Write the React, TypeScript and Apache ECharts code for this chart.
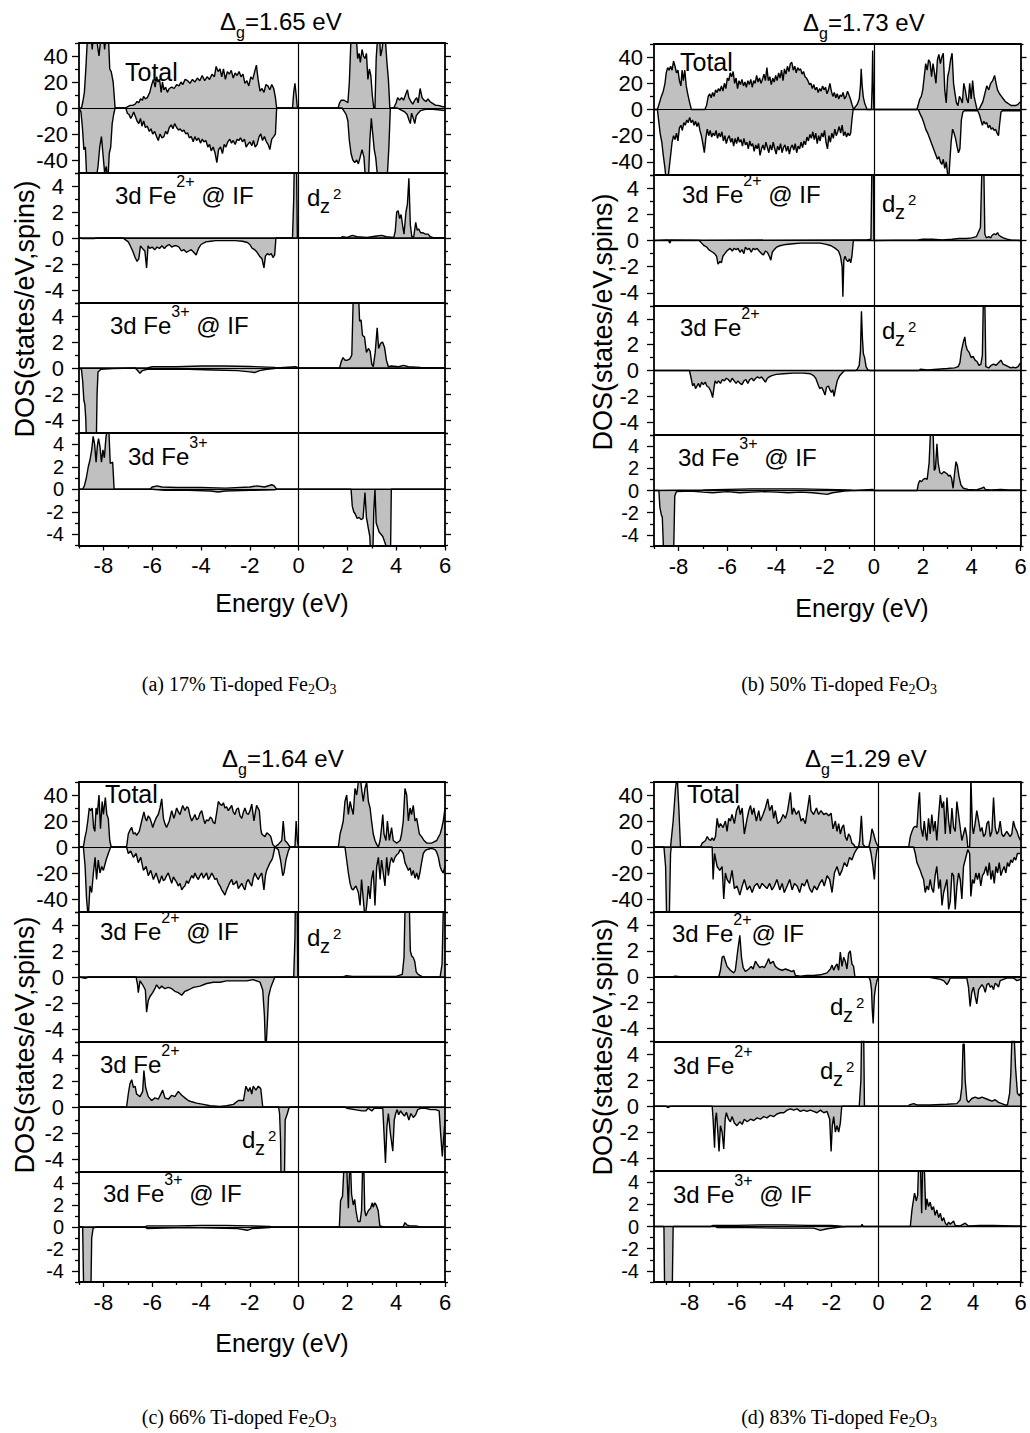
import { useEffect, useRef } from "react";
import * as echarts from "echarts";

type P = [number, number];

// ===================== DATA (energy in eV, DOS in states/eV) =====================
// ---- (a) 17% Ti-doped ----
const aTotUp: P[] = [[-9,0],[-8.9,0],[-8.84,5],[-8.78,12],[-8.72,30],[-8.66,52],[-8.6,60],[-8.52,62],[-8.46,45],[-8.4,58],[-8.32,60],[-8.24,48],[-8.18,40],[-8.1,55],[-8.02,62],[-7.95,45],[-7.88,60],[-7.8,58],[-7.74,30],[-7.68,28],[-7.6,20],[-7.52,0],[-7.1,0],[-7.0,1],[-6.9,2],[-6.8,2],[-6.7,3],[-6.62,5],[-6.55,4],[-6.48,7],[-6.4,6],[-6.35,9],[-6.28,7],[-6.2,8],[-6.1,12],[-6.02,18],[-5.95,22],[-5.88,16],[-5.82,24],[-5.76,20],[-5.7,22],[-5.63,12],[-5.58,20],[-5.52,14],[-5.45,16],[-5.38,12],[-5.3,15],[-5.2,16],[-5.1,15],[-5.0,18],[-4.9,17],[-4.82,20],[-4.75,18],[-4.65,22],[-4.55,21],[-4.45,19],[-4.35,22],[-4.25,20],[-4.15,23],[-4.05,21],[-3.95,25],[-3.85,21],[-3.75,24],[-3.65,22],[-3.55,26],[-3.45,24],[-3.38,32],[-3.3,28],[-3.22,30],[-3.15,24],[-3.08,30],[-3.0,22],[-2.92,28],[-2.84,26],[-2.76,29],[-2.68,23],[-2.6,27],[-2.52,25],[-2.44,28],[-2.36,24],[-2.28,26],[-2.2,19],[-2.12,21],[-2.04,17],[-1.96,24],[-1.88,22],[-1.8,28],[-1.73,33],[-1.66,22],[-1.58,13],[-1.5,15],[-1.42,12],[-1.34,18],[-1.26,17],[-1.18,14],[-1.1,18],[-1.02,15],[-0.95,8],[-0.9,0],[-0.25,0],[-0.2,12],[-0.15,19],[-0.1,10],[-0.05,0],[1.62,0],[1.68,4],[1.75,6],[1.85,6],[1.95,5],[2.02,4],[2.08,20],[2.14,50],[2.2,62],[2.28,55],[2.35,60],[2.42,38],[2.48,42],[2.53,35],[2.6,45],[2.66,40],[2.72,38],[2.78,42],[2.84,22],[2.9,30],[2.96,25],[3.02,10],[3.08,0],[3.13,0],[3.18,38],[3.24,55],[3.3,60],[3.36,40],[3.42,45],[3.5,58],[3.56,52],[3.62,35],[3.68,22],[3.74,0],[3.9,0],[4.0,4],[4.06,8],[4.14,6],[4.22,8],[4.3,6],[4.38,10],[4.46,14],[4.52,8],[4.6,5],[4.68,3],[4.76,6],[4.84,8],[4.9,4],[4.98,15],[5.06,8],[5.14,6],[5.22,5],[5.3,7],[5.38,5],[5.46,4],[5.54,3],[5.62,2],[5.72,2],[5.82,1.5],[5.9,1],[6,1]];
const aTotDn: P[] = [[-9,0],[-8.92,-3],[-8.86,-15],[-8.8,-32],[-8.74,-30],[-8.68,-55],[-8.6,-60],[-8.5,-58],[-8.4,-62],[-8.3,-55],[-8.22,-45],[-8.15,-30],[-8.08,-22],[-8.02,-35],[-7.95,-50],[-7.88,-45],[-7.82,-58],[-7.76,-35],[-7.7,-30],[-7.64,-12],[-7.58,-5],[-7.52,0],[-7.08,0],[-7.02,-4],[-6.95,-5],[-6.88,-8],[-6.82,-6],[-6.76,-3],[-6.7,-6],[-6.62,-10],[-6.55,-12],[-6.48,-8],[-6.42,-14],[-6.35,-10],[-6.28,-15],[-6.2,-14],[-6.12,-18],[-6.05,-16],[-5.98,-20],[-5.9,-18],[-5.82,-22],[-5.75,-25],[-5.68,-20],[-5.6,-23],[-5.52,-22],[-5.45,-18],[-5.38,-20],[-5.3,-15],[-5.22,-13],[-5.15,-16],[-5.08,-12],[-5.0,-15],[-4.92,-17],[-4.85,-16],[-4.78,-18],[-4.7,-17],[-4.62,-20],[-4.55,-19],[-4.48,-23],[-4.4,-22],[-4.32,-26],[-4.25,-22],[-4.18,-25],[-4.1,-23],[-4.02,-27],[-3.95,-24],[-3.88,-26],[-3.8,-25],[-3.72,-30],[-3.65,-28],[-3.58,-33],[-3.5,-30],[-3.42,-35],[-3.35,-42],[-3.28,-32],[-3.2,-30],[-3.12,-35],[-3.05,-28],[-2.98,-30],[-2.9,-26],[-2.82,-24],[-2.75,-27],[-2.68,-25],[-2.6,-28],[-2.52,-24],[-2.45,-25],[-2.38,-23],[-2.3,-26],[-2.22,-24],[-2.15,-30],[-2.08,-28],[-2.0,-26],[-1.92,-29],[-1.85,-25],[-1.78,-30],[-1.7,-28],[-1.62,-22],[-1.55,-20],[-1.48,-25],[-1.4,-22],[-1.32,-26],[-1.25,-28],[-1.18,-32],[-1.1,-24],[-1.02,-22],[-0.95,-20],[-0.9,0],[1.78,0],[1.85,-2],[1.95,-5],[2.02,-10],[2.08,-25],[2.15,-35],[2.22,-40],[2.3,-42],[2.38,-40],[2.45,-43],[2.52,-38],[2.6,-32],[2.68,-38],[2.74,-55],[2.8,-60],[2.86,-58],[2.92,-25],[2.98,-8],[3.04,-20],[3.1,-32],[3.16,-38],[3.22,-50],[3.3,-60],[3.38,-55],[3.46,-58],[3.54,-60],[3.62,-58],[3.7,-30],[3.76,0],[4.05,0],[4.15,-1],[4.25,-2],[4.35,-3],[4.45,-5],[4.52,-9],[4.58,-12],[4.63,-4],[4.7,-8],[4.76,-12],[4.82,-6],[4.9,-4],[5.0,-2],[5.2,-1],[5.5,-1],[5.8,-1.5],[6,-2]];
const aFe2IFUp: P[] = [[-9,0],[-0.25,0],[-0.2,3],[-0.16,8],[-0.1,8],[-0.05,0],[1.7,0],[1.8,0.1],[2.0,0.05],[2.2,0.2],[2.4,0.1],[2.8,0.05],[3.2,0.15],[3.4,0.2],[3.6,0.1],[3.9,0.05],[3.96,0.5],[4.02,2.0],[4.08,2.1],[4.14,1.5],[4.2,1.8],[4.26,1.0],[4.32,0.3],[4.4,2.0],[4.46,2.6],[4.52,4.6],[4.58,1.0],[4.64,0.1],[4.72,0.1],[4.8,1.2],[4.86,0.6],[4.92,0.7],[5.0,0.4],[5.1,0.4],[5.2,0.3],[5.3,0.3],[5.4,0.1],[5.5,0.05],[6,0]];
const aFe2IFDn: P[] = [[-9,0],[-8.85,-0.05],[-8.4,-0.05],[-8.2,0],[-7.2,0],[-7.05,-0.2],[-6.98,-0.3],[-6.9,-0.6],[-6.8,-1.0],[-6.7,-1.5],[-6.62,-1.8],[-6.55,-1.6],[-6.48,-0.6],[-6.4,-0.8],[-6.3,-1.0],[-6.23,-2.3],[-6.17,-0.6],[-6.1,-0.8],[-6.0,-0.7],[-5.9,-0.9],[-5.8,-0.7],[-5.7,-0.8],[-5.6,-0.6],[-5.5,-0.8],[-5.4,-0.6],[-5.3,-0.5],[-5.2,-0.7],[-5.1,-0.6],[-5.0,-0.6],[-4.9,-0.7],[-4.8,-1.0],[-4.7,-0.9],[-4.6,-1.1],[-4.5,-1.0],[-4.4,-0.9],[-4.3,-1.1],[-4.2,-1.3],[-4.1,-0.8],[-4.0,-0.5],[-3.8,-0.3],[-3.6,-0.25],[-3.4,-0.2],[-3.0,-0.2],[-2.6,-0.2],[-2.3,-0.25],[-2.1,-0.35],[-2.0,-0.5],[-1.9,-0.8],[-1.8,-0.9],[-1.7,-1.1],[-1.6,-1.4],[-1.5,-1.6],[-1.42,-2.3],[-1.36,-1.4],[-1.28,-1.2],[-1.2,-1.3],[-1.12,-1.2],[-1.05,-1.5],[-0.98,-1.3],[-0.93,0],[6,0]];
const aFe3IFUp: P[] = [[-9,0],[-6.2,0],[-6.0,0.1],[-5.0,0.1],[-4.0,0.15],[-3.0,0.15],[-2.0,0.12],[-1.0,0.05],[-0.9,0],[-0.12,0.1],[0,0],[1.68,0],[1.75,0.5],[1.82,0.8],[1.9,0.6],[2.0,0.6],[2.1,0.7],[2.18,1.0],[2.24,5.5],[2.3,6],[2.45,6],[2.5,3.6],[2.56,3.7],[2.62,2.5],[2.7,2.4],[2.78,1.2],[2.86,1.5],[2.93,1.3],[3.0,0.3],[3.06,0.1],[3.14,1.2],[3.22,3.1],[3.28,1.5],[3.36,1.9],[3.44,2.0],[3.52,1.6],[3.6,0.6],[3.68,0.1],[3.8,0.15],[4.1,0.1],[4.3,0.2],[4.5,0.1],[5.0,0.05],[6,0]];
const aFe3IFDn: P[] = [[-9,0],[-8.9,-0.1],[-8.85,-1.0],[-8.8,-2.5],[-8.76,-2.8],[-8.72,-4],[-8.68,-7],[-8.3,-7],[-8.26,-2],[-8.22,-0.3],[-8.1,-0.1],[-7.6,-0.05],[-6.7,0],[-6.6,-0.2],[-6.5,-0.4],[-6.4,-0.2],[-6.2,-0.1],[-5.5,-0.1],[-4.5,-0.1],[-3.5,-0.15],[-2.5,-0.2],[-2.0,-0.3],[-1.8,-0.35],[-1.6,-0.2],[-1.3,-0.1],[-1.0,-0.05],[-0.9,0],[6,0]];
const aFe3Up: P[] = [[-9,0],[-8.85,0],[-8.78,0.3],[-8.7,1.0],[-8.62,2.0],[-8.55,2.6],[-8.48,3.5],[-8.42,4.7],[-8.36,4.0],[-8.3,2.4],[-8.25,3.8],[-8.2,4.5],[-8.14,3.8],[-8.08,2.4],[-8.02,3.5],[-7.96,2.8],[-7.9,4.5],[-7.84,5.5],[-7.78,5.5],[-7.72,2.3],[-7.62,2.4],[-7.56,0],[-6.1,0],[-6.0,0.2],[-5.8,0.3],[-5.6,0.2],[-5.0,0.15],[-4.0,0.15],[-3.0,0.1],[-2.0,0.2],[-1.7,0.3],[-1.4,0.2],[-1.1,0.4],[-1.0,0.3],[-0.9,0],[6,0]];
const aFe3Dn: P[] = [[-9,0],[-6.0,0],[-5.5,-0.1],[-4.5,-0.1],[-3.6,-0.15],[-3.3,-0.25],[-3.0,-0.15],[-2.0,-0.1],[-1.0,-0.05],[-0.9,0],[2.15,0],[2.2,-1.5],[2.26,-2.0],[2.32,-2.2],[2.4,-2.6],[2.48,-2.5],[2.56,-2.7],[2.64,-2.6],[2.72,-0.3],[2.78,-2.5],[2.86,-3.5],[2.92,-4.2],[2.97,-7],[3.03,-7],[3.08,-2.0],[3.13,0],[3.18,-3.0],[3.3,-3.8],[3.45,-4.2],[3.58,-5.0],[3.66,-7],[3.76,-7],[3.8,0],[6,0]];

// ---- (b) 50% Ti-doped ----
const bTotUp: P[] = [[-9,0],[-8.86,0],[-8.78,5],[-8.7,10],[-8.62,14],[-8.55,20],[-8.5,28],[-8.44,32],[-8.38,30],[-8.32,33],[-8.26,30],[-8.2,37],[-8.14,33],[-8.08,28],[-8.02,30],[-7.96,22],[-7.9,18],[-7.85,30],[-7.8,22],[-7.74,30],[-7.68,18],[-7.62,12],[-7.55,6],[-7.47,0],[-6.92,0],[-6.85,3],[-6.78,10],[-6.72,12],[-6.66,9],[-6.6,13],[-6.54,10],[-6.48,15],[-6.42,13],[-6.36,16],[-6.3,14],[-6.24,18],[-6.18,14],[-6.12,20],[-6.06,16],[-6.0,24],[-5.94,22],[-5.88,28],[-5.82,25],[-5.76,29],[-5.7,20],[-5.64,24],[-5.58,16],[-5.52,22],[-5.46,19],[-5.4,23],[-5.34,18],[-5.28,21],[-5.22,17],[-5.16,22],[-5.1,19],[-5.04,23],[-4.98,17],[-4.92,22],[-4.86,20],[-4.8,26],[-4.74,21],[-4.68,24],[-4.62,20],[-4.56,23],[-4.5,27],[-4.44,22],[-4.38,32],[-4.32,22],[-4.26,25],[-4.2,19],[-4.14,24],[-4.08,21],[-4.02,26],[-3.96,22],[-3.9,28],[-3.84,24],[-3.78,30],[-3.72,22],[-3.66,31],[-3.6,27],[-3.54,33],[-3.48,29],[-3.42,35],[-3.36,36],[-3.3,30],[-3.24,33],[-3.18,28],[-3.12,32],[-3.06,30],[-3.0,31],[-2.94,27],[-2.88,29],[-2.82,25],[-2.76,24],[-2.7,22],[-2.64,19],[-2.58,20],[-2.52,16],[-2.46,19],[-2.4,15],[-2.34,17],[-2.28,13],[-2.22,16],[-2.16,14],[-2.1,18],[-2.04,15],[-1.98,17],[-1.92,12],[-1.86,15],[-1.8,20],[-1.74,14],[-1.68,10],[-1.62,13],[-1.56,9],[-1.5,12],[-1.44,8],[-1.38,11],[-1.32,10],[-1.26,13],[-1.2,8],[-1.14,10],[-1.08,14],[-1.02,11],[-0.96,8],[-0.9,4],[-0.83,0],[-0.76,2],[-0.68,4],[-0.6,8],[-0.55,18],[-0.52,31],[-0.48,18],[-0.43,9],[-0.38,5],[-0.32,2],[-0.28,0],[-0.1,0],[-0.07,20],[-0.05,45],[-0.03,20],[0,0],[1.76,0],[1.82,4],[1.88,8],[1.94,10],[2.0,15],[2.06,25],[2.12,35],[2.18,30],[2.24,38],[2.3,36],[2.36,25],[2.42,35],[2.48,28],[2.54,20],[2.6,38],[2.66,42],[2.72,35],[2.78,40],[2.84,43],[2.9,15],[2.96,5],[3.02,25],[3.08,30],[3.14,38],[3.2,43],[3.26,20],[3.32,12],[3.38,5],[3.44,3],[3.5,10],[3.56,8],[3.62,5],[3.68,20],[3.74,15],[3.8,8],[3.86,5],[3.92,20],[3.98,8],[4.04,22],[4.1,10],[4.16,5],[4.22,0],[4.3,0],[4.38,3],[4.46,6],[4.54,12],[4.62,18],[4.7,15],[4.78,20],[4.86,22],[4.94,26],[5.0,20],[5.06,15],[5.14,12],[5.22,10],[5.3,8],[5.38,6],[5.46,5],[5.54,4],[5.62,3],[5.7,3],[5.8,3],[5.9,4],[6,6]];
const bTotDn: P[] = [[-9,0],[-8.86,0],[-8.8,-10],[-8.75,-18],[-8.68,-25],[-8.62,-35],[-8.55,-45],[-8.5,-55],[-8.44,-55],[-8.38,-45],[-8.32,-35],[-8.26,-25],[-8.2,-20],[-8.14,-23],[-8.08,-18],[-8.02,-24],[-7.96,-14],[-7.9,-12],[-7.84,-16],[-7.78,-10],[-7.72,-12],[-7.66,-8],[-7.6,-10],[-7.54,-6],[-7.48,-10],[-7.42,-8],[-7.36,-12],[-7.3,-9],[-7.24,-13],[-7.18,-10],[-7.12,-16],[-7.06,-20],[-7.0,-26],[-6.94,-33],[-6.88,-22],[-6.82,-15],[-6.76,-20],[-6.7,-16],[-6.64,-21],[-6.58,-18],[-6.52,-20],[-6.46,-16],[-6.4,-22],[-6.34,-18],[-6.28,-21],[-6.22,-17],[-6.16,-24],[-6.1,-20],[-6.04,-26],[-5.98,-22],[-5.92,-20],[-5.86,-25],[-5.8,-22],[-5.74,-28],[-5.68,-22],[-5.62,-26],[-5.56,-21],[-5.5,-25],[-5.44,-23],[-5.38,-28],[-5.32,-22],[-5.26,-27],[-5.2,-25],[-5.14,-30],[-5.08,-24],[-5.02,-28],[-4.96,-26],[-4.9,-32],[-4.84,-27],[-4.78,-30],[-4.72,-26],[-4.66,-35],[-4.6,-30],[-4.54,-27],[-4.48,-31],[-4.42,-25],[-4.36,-29],[-4.3,-33],[-4.24,-27],[-4.18,-31],[-4.12,-25],[-4.06,-30],[-4.0,-34],[-3.94,-28],[-3.88,-31],[-3.82,-26],[-3.76,-33],[-3.7,-29],[-3.64,-27],[-3.58,-32],[-3.52,-28],[-3.46,-34],[-3.4,-29],[-3.34,-27],[-3.28,-31],[-3.22,-26],[-3.16,-33],[-3.1,-28],[-3.04,-30],[-2.98,-25],[-2.92,-29],[-2.86,-24],[-2.8,-27],[-2.74,-21],[-2.68,-24],[-2.62,-19],[-2.56,-22],[-2.5,-17],[-2.44,-23],[-2.38,-18],[-2.32,-26],[-2.26,-20],[-2.2,-24],[-2.14,-18],[-2.08,-21],[-2.02,-16],[-1.96,-25],[-1.9,-30],[-1.84,-20],[-1.78,-25],[-1.72,-18],[-1.66,-22],[-1.6,-15],[-1.54,-20],[-1.48,-17],[-1.42,-13],[-1.36,-18],[-1.3,-12],[-1.24,-20],[-1.18,-17],[-1.12,-21],[-1.06,-18],[-1.0,-20],[-0.95,-18],[-0.9,-8],[-0.85,0],[1.82,0],[1.88,-3],[1.96,-6],[2.04,-10],[2.12,-15],[2.2,-18],[2.28,-22],[2.36,-26],[2.44,-30],[2.52,-34],[2.6,-38],[2.66,-36],[2.72,-40],[2.78,-42],[2.84,-38],[2.9,-45],[2.96,-40],[3.02,-50],[3.06,-55],[3.1,-42],[3.16,-25],[3.22,-15],[3.28,-18],[3.34,-22],[3.4,-28],[3.46,-33],[3.52,-30],[3.58,-8],[3.64,-2],[3.7,-1],[4.25,-1],[4.32,-4],[4.38,-8],[4.44,-12],[4.5,-9],[4.56,-11],[4.62,-10],[4.68,-14],[4.74,-12],[4.8,-15],[4.86,-14],[4.92,-16],[4.98,-15],[5.04,-18],[5.1,-20],[5.14,-12],[5.2,-2],[5.26,-1],[6,-1]];
const bFe2IFUp: P[] = [[-9,0],[-8.5,0.05],[-7,0.02],[-1,0.05],[-0.3,0.05],[-0.12,0.1],[-0.08,6],[-0.02,6],[0,0],[1.8,0.05],[2.0,0.1],[2.4,0.1],[2.8,0.05],[3.2,0.1],[3.5,0.15],[3.8,0.15],[4.0,0.2],[4.2,0.3],[4.36,1.0],[4.42,5.5],[4.5,5.5],[4.54,0.5],[4.6,0.2],[4.7,0.3],[4.78,0.2],[4.84,0.4],[4.92,0.5],[5.0,0.45],[5.06,0.6],[5.12,0.4],[5.2,0.3],[5.3,0.2],[5.45,0.1],[5.6,0.05],[6,0]];
const bFe2IFDn: P[] = [[-9,0],[-8.4,0],[-8.36,-0.2],[-8.3,0],[-7.15,0],[-7.05,-0.2],[-6.95,-0.4],[-6.84,-0.5],[-6.76,-0.7],[-6.68,-0.8],[-6.6,-0.9],[-6.52,-1.0],[-6.44,-1.2],[-6.38,-1.8],[-6.3,-1.6],[-6.24,-1.7],[-6.18,-1.2],[-6.1,-1.0],[-6.02,-0.8],[-5.95,-0.7],[-5.88,-0.6],[-5.8,-0.8],[-5.72,-0.6],[-5.64,-0.7],[-5.56,-0.6],[-5.48,-0.9],[-5.4,-0.7],[-5.32,-1.0],[-5.26,-0.5],[-5.18,-0.7],[-5.1,-0.6],[-5.02,-0.9],[-4.94,-0.6],[-4.86,-0.7],[-4.78,-0.6],[-4.7,-0.8],[-4.6,-1.0],[-4.52,-1.1],[-4.44,-0.8],[-4.36,-0.9],[-4.28,-1.2],[-4.22,-1.5],[-4.16,-0.9],[-4.08,-0.7],[-3.98,-0.5],[-3.85,-0.4],[-3.6,-0.3],[-3.3,-0.25],[-3.0,-0.2],[-2.6,-0.2],[-2.2,-0.2],[-1.95,-0.3],[-1.75,-0.4],[-1.58,-0.6],[-1.45,-0.8],[-1.37,-1.2],[-1.3,-2.0],[-1.27,-4.3],[-1.23,-1.5],[-1.18,-1.2],[-1.12,-1.5],[-1.06,-1.6],[-1.0,-1.4],[-0.95,-1.7],[-0.9,-1.2],[-0.84,0],[6,0]];
const bFe2Up: P[] = [[-9,0],[-0.75,0],[-0.68,0.1],[-0.6,0.4],[-0.55,1.5],[-0.51,4.6],[-0.47,2.5],[-0.43,1.3],[-0.38,1.0],[-0.32,0.3],[-0.25,0.05],[-0.15,0],[1.85,0],[1.9,0.1],[2.2,0.05],[2.6,0.1],[3.0,0.15],[3.3,0.2],[3.45,0.3],[3.52,0.6],[3.58,1.5],[3.66,2.2],[3.72,2.6],[3.76,2.0],[3.82,1.6],[3.9,1.4],[3.98,1.0],[4.06,1.1],[4.14,0.8],[4.22,0.7],[4.3,0.4],[4.38,0.5],[4.44,1.2],[4.48,5.5],[4.54,5.5],[4.58,0.3],[4.7,0.2],[4.8,0.4],[4.9,0.5],[5.0,0.4],[5.1,0.6],[5.2,0.8],[5.28,0.5],[5.4,0.4],[5.5,0.3],[5.6,0.2],[5.7,0.25],[5.8,0.2],[5.9,0.3],[6,0.6]];
const bFe2Dn: P[] = [[-9,0],[-7.55,0],[-7.48,-0.6],[-7.42,-1.2],[-7.36,-1.0],[-7.3,-1.4],[-7.24,-1.2],[-7.18,-1.0],[-7.12,-1.3],[-7.05,-0.9],[-6.98,-1.1],[-6.9,-0.9],[-6.84,-1.2],[-6.76,-1.3],[-6.7,-1.5],[-6.64,-1.8],[-6.6,-2.1],[-6.55,-1.4],[-6.5,-0.8],[-6.43,-1.0],[-6.36,-0.8],[-6.28,-1.0],[-6.2,-0.7],[-6.12,-0.8],[-6.04,-0.6],[-5.96,-0.7],[-5.88,-0.9],[-5.8,-0.6],[-5.72,-0.8],[-5.64,-1.0],[-5.56,-0.8],[-5.48,-1.0],[-5.4,-1.1],[-5.32,-0.8],[-5.24,-0.7],[-5.16,-1.0],[-5.08,-0.7],[-5.0,-0.6],[-4.92,-0.8],[-4.84,-0.6],[-4.76,-0.5],[-4.68,-0.6],[-4.6,-0.5],[-4.52,-0.7],[-4.44,-0.9],[-4.36,-0.6],[-4.28,-0.5],[-4.18,-0.4],[-4.0,-0.3],[-3.7,-0.25],[-3.3,-0.2],[-2.9,-0.2],[-2.6,-0.25],[-2.47,-0.4],[-2.38,-0.6],[-2.3,-1.0],[-2.22,-1.4],[-2.14,-1.3],[-2.06,-1.6],[-2.0,-1.9],[-1.94,-1.3],[-1.86,-1.2],[-1.8,-1.5],[-1.74,-1.7],[-1.68,-1.5],[-1.63,-2.0],[-1.57,-1.4],[-1.5,-0.8],[-1.4,-0.4],[-1.3,-0.2],[-1.2,0],[6,0]];
const bFe3IFUp: P[] = [[-9,0],[-7,0.05],[-6,0.1],[-5,0.15],[-4,0.15],[-3,0.15],[-2,0.1],[-1,0.05],[-0.8,0],[-0.05,0.1],[0,0],[1.77,0],[1.82,0.6],[1.88,0.9],[1.95,0.8],[2.02,1.0],[2.1,1.1],[2.18,1.0],[2.26,2.5],[2.32,5.5],[2.42,5.5],[2.47,1.8],[2.52,2.0],[2.58,4.2],[2.63,2.5],[2.7,1.6],[2.78,1.5],[2.86,1.7],[2.93,1.6],[3.0,1.5],[3.06,1.3],[3.12,1.4],[3.18,1.1],[3.24,0.2],[3.3,1.5],[3.36,2.6],[3.42,2.2],[3.48,1.3],[3.56,0.5],[3.66,0.2],[3.85,0.1],[4.2,0.05],[4.4,0.2],[4.5,0.3],[4.56,0.1],[4.8,0.05],[5.2,0.1],[5.5,0.05],[6,0.05]];
const bFe3IFDn: P[] = [[-9,0],[-8.8,0],[-8.76,-1.5],[-8.7,-2.2],[-8.66,-2.4],[-8.6,-6],[-8.2,-6],[-8.15,-0.5],[-8.08,-0.1],[-7.5,-0.05],[-7.0,-0.15],[-6.6,-0.2],[-6.0,-0.1],[-5.5,-0.2],[-5.0,-0.15],[-4.5,-0.1],[-4.0,-0.15],[-3.5,-0.2],[-3.0,-0.15],[-2.5,-0.2],[-2.1,-0.3],[-1.9,-0.35],[-1.7,-0.2],[-1.2,-0.05],[-0.8,0],[6,0]];

// ---- (c) 66% Ti-doped ----
const cTotUp: P[] = [[-9,0],[-8.82,0],[-8.75,8],[-8.7,12],[-8.64,20],[-8.58,30],[-8.52,28],[-8.46,30],[-8.4,15],[-8.35,12],[-8.3,30],[-8.25,25],[-8.18,40],[-8.12,14],[-8.05,35],[-8.0,25],[-7.92,38],[-7.86,25],[-7.8,22],[-7.74,5],[-7.68,0],[-7.05,0],[-6.98,10],[-6.91,13],[-6.84,15],[-6.77,10],[-6.7,11],[-6.64,9],[-6.53,12],[-6.48,16],[-6.43,20],[-6.34,27],[-6.28,22],[-6.23,20],[-6.16,24],[-6.09,22],[-6.02,18],[-5.98,15],[-5.89,20],[-5.82,23],[-5.75,25],[-5.68,30],[-5.61,37],[-5.54,22],[-5.48,18],[-5.41,15],[-5.3,20],[-5.2,28],[-5.11,22],[-5.05,26],[-5.0,30],[-4.93,27],[-4.86,25],[-4.75,32],[-4.66,28],[-4.58,31],[-4.52,30],[-4.45,24],[-4.38,20],[-4.3,23],[-4.25,25],[-4.18,21],[-4.11,22],[-4.04,26],[-3.97,28],[-3.9,22],[-3.84,18],[-3.77,21],[-3.7,20],[-3.62,23],[-3.56,22],[-3.5,19],[-3.43,18],[-3.36,26],[-3.29,35],[-3.22,33],[-3.15,32],[-3.08,34],[-3.02,30],[-2.95,31],[-2.88,28],[-2.81,30],[-2.74,32],[-2.68,27],[-2.61,25],[-2.54,29],[-2.47,30],[-2.4,24],[-2.33,22],[-2.26,27],[-2.2,30],[-2.13,26],[-2.06,25],[-1.99,28],[-1.92,33],[-1.83,20],[-1.76,28],[-1.72,32],[-1.61,28],[-1.55,14],[-1.51,10],[-1.45,9],[-1.38,8],[-1.3,11],[-1.24,10],[-1.18,9],[-1.14,8],[-1.06,2],[-0.97,0],[-0.83,2],[-0.69,5],[-0.63,20],[-0.56,5],[-0.46,3],[-0.35,0],[-0.15,0],[-0.1,20],[-0.05,5],[0,0],[1.63,0],[1.7,10],[1.77,15],[1.83,20],[1.9,35],[1.97,40],[2.04,25],[2.11,35],[2.17,30],[2.24,25],[2.31,45],[2.38,40],[2.45,50],[2.52,55],[2.58,45],[2.65,35],[2.72,45],[2.79,50],[2.86,35],[2.93,30],[2.99,20],[3.06,10],[3.13,5],[3.2,2],[3.27,0],[3.34,5],[3.4,15],[3.45,25],[3.5,10],[3.58,5],[3.64,20],[3.72,5],[3.81,15],[3.88,5],[3.95,4],[4.02,3],[4.09,4],[4.16,5],[4.22,10],[4.29,20],[4.36,45],[4.43,40],[4.5,20],[4.57,30],[4.63,25],[4.7,32],[4.77,20],[4.84,22],[4.95,10],[5.04,8],[5.14,5],[5.25,3],[5.35,3],[5.45,3],[5.55,4],[5.66,5],[5.74,8],[5.8,10],[5.86,14],[5.93,20],[6,30]];
const cTotDn: P[] = [[-9,0],[-8.82,0],[-8.75,-15],[-8.69,-40],[-8.62,-55],[-8.55,-30],[-8.48,-35],[-8.41,-20],[-8.34,-8],[-8.28,-25],[-8.21,-10],[-8.14,-20],[-8.07,-15],[-8.0,-18],[-7.89,-10],[-7.8,-5],[-7.7,0],[-7.05,0],[-6.98,-5],[-6.88,-3],[-6.77,-8],[-6.66,-5],[-6.57,-12],[-6.47,-8],[-6.36,-18],[-6.25,-15],[-6.16,-22],[-6.06,-18],[-5.95,-25],[-5.84,-20],[-5.71,-28],[-5.61,-22],[-5.54,-26],[-5.48,-25],[-5.41,-22],[-5.34,-20],[-5.27,-24],[-5.2,-28],[-5.13,-23],[-5.07,-25],[-5.0,-27],[-4.93,-30],[-4.86,-28],[-4.79,-33],[-4.72,-31],[-4.66,-30],[-4.59,-26],[-4.52,-28],[-4.45,-25],[-4.38,-22],[-4.31,-24],[-4.25,-20],[-4.18,-23],[-4.11,-25],[-4.04,-22],[-3.97,-20],[-3.9,-24],[-3.84,-22],[-3.77,-20],[-3.7,-25],[-3.63,-23],[-3.56,-20],[-3.5,-22],[-3.43,-25],[-3.36,-24],[-3.29,-28],[-3.22,-30],[-3.15,-33],[-3.08,-35],[-3.02,-37],[-2.95,-33],[-2.88,-30],[-2.81,-27],[-2.74,-25],[-2.68,-29],[-2.61,-28],[-2.54,-26],[-2.47,-32],[-2.4,-30],[-2.33,-28],[-2.26,-31],[-2.2,-33],[-2.13,-27],[-2.06,-25],[-1.99,-28],[-1.92,-30],[-1.86,-24],[-1.79,-20],[-1.72,-23],[-1.65,-25],[-1.58,-22],[-1.51,-20],[-1.42,-33],[-1.36,-22],[-1.31,-18],[-1.24,-15],[-1.17,-12],[-1.1,-10],[-1.06,-8],[-0.97,0],[-0.83,-2],[-0.74,-10],[-0.65,-22],[-0.6,-20],[-0.52,-10],[-0.42,-3],[-0.35,0],[1.9,0],[1.97,-10],[2.04,-20],[2.11,-28],[2.17,-32],[2.24,-33],[2.3,-31],[2.35,-30],[2.45,-35],[2.52,-45],[2.58,-25],[2.65,-40],[2.72,-55],[2.79,-45],[2.86,-30],[2.93,-40],[2.99,-25],[3.06,-18],[3.13,-45],[3.2,-15],[3.27,-8],[3.34,-25],[3.4,-10],[3.47,-20],[3.54,-30],[3.61,-8],[3.68,-22],[3.75,-12],[3.81,-8],[3.88,-12],[3.95,-8],[4.02,-6],[4.09,-5],[4.16,-2],[4.22,-3],[4.29,-5],[4.36,-12],[4.43,-15],[4.5,-18],[4.57,-16],[4.63,-22],[4.7,-18],[4.77,-24],[4.84,-20],[4.91,-25],[4.97,-20],[5.04,-12],[5.11,-5],[5.18,-3],[5.25,-2],[5.35,-1.5],[5.45,-1],[5.59,-2],[5.66,-4],[5.73,-8],[5.8,-15],[5.86,-18],[5.93,-20],[6,-15]];
const cFe2IFUp: P[] = [[-9,0],[-0.2,0],[-0.15,3],[-0.12,8],[-0.07,8],[-0.03,0],[1.8,0],[1.97,0.1],[2.2,0.05],[3.0,0.05],[4.0,0.05],[4.25,0.2],[4.32,1.5],[4.38,7],[4.52,7],[4.58,2],[4.64,1.6],[4.7,1.5],[4.76,1.2],[4.82,0.4],[4.9,0.2],[5.1,0],[5.8,0],[5.88,1],[5.94,6],[6,6]];
const cFe2IFDn: P[] = [[-9,0],[-8.75,-0.1],[-8.6,0],[-6.66,0],[-6.6,-0.6],[-6.57,-1.2],[-6.5,-0.3],[-6.39,-0.6],[-6.28,-1.0],[-6.23,-2.7],[-6.16,-1.8],[-6.09,-1.5],[-5.98,-1.2],[-5.89,-0.9],[-5.82,-0.6],[-5.71,-0.9],[-5.61,-0.7],[-5.48,-0.9],[-5.34,-0.8],[-5.2,-0.9],[-5.07,-1.1],[-4.93,-1.2],[-4.79,-1.4],[-4.66,-1.1],[-4.52,-1.0],[-4.31,-0.8],[-4.04,-0.7],[-3.77,-0.5],[-3.49,-0.4],[-3.22,-0.4],[-2.95,-0.3],[-2.67,-0.3],[-2.4,-0.3],[-2.13,-0.3],[-1.86,-0.2],[-1.58,-0.4],[-1.47,-1.0],[-1.4,-3],[-1.35,-6],[-1.28,-3.5],[-1.23,-1.5],[-1.14,-0.8],[-1.06,-0.4],[-0.97,0],[6,0]];
const cFe2Up: P[] = [[-9,0],[-7.05,0],[-6.98,1.0],[-6.91,1.8],[-6.84,2.1],[-6.77,1.5],[-6.7,1.6],[-6.64,1.0],[-6.5,0.8],[-6.39,1.2],[-6.34,2.8],[-6.27,1.5],[-6.16,0.8],[-6.02,0.5],[-5.89,0.7],[-5.75,0.6],[-5.57,1.3],[-5.48,0.7],[-5.34,0.6],[-5.2,0.9],[-5.07,0.8],[-4.93,1.2],[-4.79,0.9],[-4.66,0.7],[-4.52,0.5],[-4.38,0.4],[-4.18,0.3],[-3.9,0.2],[-3.63,0.1],[-3.22,0.05],[-2.95,0.1],[-2.67,0.2],[-2.47,0.5],[-2.26,0.5],[-2.16,1.6],[-2.06,1.2],[-1.99,1.5],[-1.92,1.0],[-1.86,1.6],[-1.75,1.3],[-1.65,1.6],[-1.55,1.4],[-1.47,0],[6,0]];
const cFe2Dn: P[] = [[-9,0],[-0.82,0],[-0.78,-0.5],[-0.74,-2.5],[-0.72,-5.5],[-0.58,-5.5],[-0.55,-1.0],[-0.46,-0.5],[-0.4,-0.1],[-0.35,0],[1.9,0],[1.97,-0.1],[2.3,-0.2],[2.6,-0.3],[2.75,-0.3],[2.85,-0.1],[3.0,-0.3],[3.1,-0.1],[3.4,-0.1],[3.45,-0.1],[3.5,-2.0],[3.56,-4.3],[3.62,-1.5],[3.68,-0.5],[3.76,-2.0],[3.86,-3.4],[3.92,-1.0],[3.98,-0.5],[4.04,-0.2],[4.1,-0.6],[4.18,-0.3],[4.25,-0.5],[4.34,-0.7],[4.42,-0.4],[4.52,-1.0],[4.6,-0.5],[4.7,-0.8],[4.8,-0.6],[4.88,-0.2],[5.0,-0.1],[5.2,-0.1],[5.4,-0.2],[5.6,-0.2],[5.76,-0.3],[5.82,-2.0],[5.89,-3.8],[5.96,-2.0],[6,-1]];
const cFe3IFUp: P[] = [[-9,0],[-6.3,0],[-6.2,0.1],[-5,0.1],[-4,0.15],[-3,0.15],[-2,0.1],[-1.2,0.05],[-1.0,0],[1.67,0],[1.72,2.4],[1.8,2.8],[1.86,5.5],[1.97,5.5],[2.04,1.7],[2.09,5.5],[2.13,5.5],[2.17,3.0],[2.24,2.0],[2.3,2.5],[2.35,1.5],[2.43,0.5],[2.52,0.5],[2.58,1.5],[2.63,6],[2.67,6],[2.71,1.5],[2.76,1.0],[2.86,1.5],[2.95,1.7],[3.02,2.2],[3.06,1.8],[3.12,2.2],[3.18,2.0],[3.26,1.5],[3.33,0.1],[3.5,0],[4.25,0],[4.3,0.1],[4.36,0.4],[4.43,0.2],[4.55,0.1],[4.8,0.1],[5,0],[6,0]];
const cFe3IFDn: P[] = [[-9,0],[-8.85,0],[-8.8,-7],[-8.52,-7],[-8.48,-1],[-8.42,-0.1],[-8.3,0],[-6.3,0],[-6.2,-0.15],[-5.5,-0.1],[-4.5,-0.05],[-3.5,-0.1],[-2.5,-0.15],[-2.1,-0.3],[-1.9,-0.15],[-1.2,-0.05],[-1.0,0],[6,0]];

// ---- (d) 83% Ti-doped ----
const dTotUp: P[] = [[-9.5,0],[-8.8,0],[-8.69,20],[-8.59,45],[-8.52,55],[-8.45,30],[-8.38,0],[-7.54,0],[-7.46,3],[-7.32,5],[-7.25,8],[-7.18,6],[-7.11,5],[-7.04,7],[-6.97,5],[-6.9,8],[-6.83,22],[-6.76,15],[-6.69,18],[-6.58,15],[-6.48,20],[-6.41,12],[-6.34,22],[-6.27,20],[-6.2,25],[-6.1,18],[-6.01,28],[-5.92,32],[-5.85,25],[-5.77,30],[-5.68,10],[-5.56,22],[-5.49,28],[-5.42,32],[-5.35,25],[-5.28,30],[-5.17,20],[-5.07,28],[-5.0,20],[-4.89,25],[-4.79,30],[-4.69,37],[-4.61,28],[-4.51,32],[-4.44,22],[-4.37,28],[-4.27,18],[-4.15,20],[-4.04,25],[-3.94,22],[-3.85,28],[-3.73,42],[-3.66,25],[-3.59,30],[-3.48,25],[-3.38,28],[-3.28,20],[-3.2,22],[-3.1,18],[-3.0,30],[-2.92,40],[-2.86,28],[-2.75,25],[-2.63,30],[-2.54,25],[-2.44,28],[-2.32,25],[-2.21,26],[-2.11,24],[-2.01,26],[-1.93,14],[-1.83,20],[-1.76,12],[-1.69,18],[-1.62,10],[-1.55,15],[-1.48,17],[-1.41,8],[-1.34,5],[-1.27,10],[-1.2,8],[-1.13,3],[-1.06,2],[-0.99,0],[-0.85,0],[-0.8,5],[-0.73,24],[-0.66,2],[-0.56,0],[-0.42,0],[-0.35,5],[-0.28,14],[-0.21,10],[-0.14,5],[-0.07,2],[0,0],[1.27,0],[1.34,8],[1.41,12],[1.48,15],[1.55,16],[1.62,15],[1.69,35],[1.73,42],[1.79,15],[1.87,8],[1.93,20],[1.99,10],[2.04,5],[2.11,22],[2.18,10],[2.25,25],[2.32,12],[2.39,20],[2.46,5],[2.54,25],[2.61,40],[2.68,30],[2.75,35],[2.82,10],[2.89,38],[2.96,20],[3.03,10],[3.1,30],[3.17,15],[3.24,12],[3.31,35],[3.38,25],[3.45,15],[3.52,5],[3.59,10],[3.66,15],[3.73,8],[3.77,0],[3.85,0],[3.88,20],[3.9,55],[3.94,30],[3.97,15],[4.01,10],[4.08,18],[4.15,28],[4.23,20],[4.3,12],[4.37,15],[4.44,8],[4.51,10],[4.58,18],[4.65,20],[4.72,8],[4.79,12],[4.86,38],[4.93,15],[5.0,10],[5.07,12],[5.14,20],[5.21,10],[5.28,8],[5.35,10],[5.42,12],[5.49,10],[5.56,8],[5.63,10],[5.7,20],[5.77,15],[5.85,12],[5.92,8],[6,5]];
const dTotDn: P[] = [[-9.5,0],[-9.08,0],[-9.01,-15],[-8.97,-50],[-8.92,-60],[-8.86,-60],[-8.8,-5],[-8.77,0],[-7.04,0],[-7.0,-25],[-6.94,-5],[-6.83,-15],[-6.72,-18],[-6.62,-15],[-6.55,-40],[-6.48,-20],[-6.41,-25],[-6.3,-28],[-6.2,-18],[-6.1,-32],[-5.99,-30],[-5.87,-37],[-5.77,-30],[-5.68,-25],[-5.56,-33],[-5.45,-30],[-5.35,-35],[-5.25,-30],[-5.14,-28],[-5.03,-32],[-4.93,-28],[-4.83,-30],[-4.72,-32],[-4.61,-28],[-4.51,-33],[-4.41,-30],[-4.3,-25],[-4.18,-33],[-4.08,-28],[-3.99,-35],[-3.87,-30],[-3.76,-25],[-3.66,-33],[-3.56,-28],[-3.45,-30],[-3.34,-35],[-3.24,-28],[-3.14,-30],[-3.03,-25],[-2.92,-32],[-2.82,-35],[-2.72,-30],[-2.61,-33],[-2.49,-28],[-2.39,-25],[-2.3,-30],[-2.18,-22],[-2.07,-25],[-1.97,-35],[-1.87,-20],[-1.76,-15],[-1.65,-22],[-1.55,-18],[-1.45,-12],[-1.34,-15],[-1.23,-8],[-1.13,-10],[-1.03,-5],[-0.94,-2],[-0.85,0],[-0.38,0],[-0.32,-5],[-0.24,-15],[-0.18,-25],[-0.13,-10],[-0.07,-2],[0,0],[1.48,0],[1.55,-5],[1.62,-12],[1.69,-15],[1.76,-18],[1.83,-22],[1.9,-25],[1.97,-35],[2.04,-30],[2.11,-33],[2.18,-25],[2.25,-32],[2.32,-35],[2.39,-22],[2.46,-15],[2.54,-32],[2.61,-25],[2.68,-45],[2.75,-35],[2.82,-30],[2.89,-25],[2.96,-48],[3.03,-42],[3.1,-20],[3.17,-22],[3.24,-48],[3.31,-30],[3.38,-20],[3.45,-25],[3.52,-40],[3.59,-15],[3.66,-10],[3.73,-5],[3.77,-2],[3.85,-5],[3.9,-38],[3.97,-25],[4.04,-28],[4.11,-20],[4.18,-25],[4.25,-20],[4.32,-30],[4.39,-22],[4.46,-20],[4.54,-15],[4.61,-22],[4.68,-12],[4.75,-25],[4.82,-18],[4.89,-28],[4.96,-15],[5.03,-20],[5.1,-12],[5.17,-22],[5.24,-18],[5.31,-15],[5.38,-20],[5.45,-12],[5.52,-15],[5.59,-10],[5.66,-12],[5.73,-8],[5.8,-10],[5.87,-5],[5.94,-5],[6,-5]];
const dFe2IFUp: P[] = [[-9.5,0],[-8.7,0],[-8.59,0.05],[-8.4,0],[-6.76,0],[-6.69,0.5],[-6.62,1.5],[-6.55,1.6],[-6.48,1.2],[-6.41,0.8],[-6.27,0.5],[-6.13,0.3],[-6.06,0.5],[-5.96,2.0],[-5.87,3.2],[-5.8,1.5],[-5.73,0.7],[-5.63,0.4],[-5.49,0.6],[-5.39,0.8],[-5.31,0.6],[-5.21,1.2],[-5.14,1.0],[-5.03,0.7],[-4.93,0.8],[-4.83,0.7],[-4.72,1.1],[-4.65,1.4],[-4.58,1.0],[-4.46,1.2],[-4.37,0.8],[-4.23,0.6],[-4.08,0.5],[-3.94,0.6],[-3.8,0.5],[-3.66,0.4],[-3.59,0.5],[-3.52,0.1],[-3.31,0.05],[-3.03,0.1],[-2.75,0.1],[-2.46,0.15],[-2.18,0.3],[-2.04,0.6],[-1.97,0.9],[-1.9,0.5],[-1.83,0.8],[-1.76,1.0],[-1.69,0.5],[-1.62,1.9],[-1.55,0.8],[-1.48,1.5],[-1.41,1.2],[-1.34,0.6],[-1.27,1.8],[-1.2,2.0],[-1.13,1.0],[-1.06,0.8],[-1.01,0.1],[-0.99,0],[6,0]];
const dFe2IFDn: P[] = [[-9.5,0],[-0.42,0],[-0.35,-0.3],[-0.3,-1.0],[-0.27,-2.5],[-0.23,-3.6],[-0.18,-1.5],[-0.13,-0.8],[-0.07,-0.3],[0,0],[2.04,0],[2.32,-0.1],[2.61,-0.2],[2.75,-0.3],[2.89,-0.6],[2.96,-0.4],[3.03,-0.1],[3.31,-0.1],[3.73,-0.1],[3.8,-0.8],[3.87,-2.3],[3.94,-1.2],[4.01,-0.8],[4.08,-1.5],[4.15,-2.1],[4.23,-1.0],[4.3,-0.8],[4.37,-0.6],[4.44,-0.8],[4.51,-1.2],[4.58,-0.6],[4.65,-0.5],[4.72,-0.8],[4.79,-0.7],[4.86,-1.0],[4.93,-0.5],[5.0,-0.6],[5.07,-0.8],[5.14,-0.3],[5.28,-0.2],[5.42,-0.1],[5.7,-0.1],[5.85,-0.3],[6,-0.2]];
const dFe2Up: P[] = [[-9.5,0],[-0.82,0],[-0.75,2],[-0.71,7],[-0.64,7],[-0.6,0],[1.27,0],[1.3,0.1],[1.48,0.2],[1.62,0.1],[2.18,0.1],[2.89,0.15],[3.31,0.2],[3.45,0.5],[3.52,1.5],[3.57,4.8],[3.62,4.8],[3.66,2.0],[3.73,0.5],[3.8,0.3],[3.94,0.6],[4.08,0.7],[4.23,0.6],[4.37,0.7],[4.51,0.6],[4.65,0.5],[4.79,0.4],[4.93,0.5],[5.07,0.3],[5.21,0.2],[5.35,0.1],[5.45,0.1],[5.54,1.0],[5.59,2.5],[5.64,5.5],[5.73,5.5],[5.79,3],[5.87,1],[5.96,0.8],[6,1]];
const dFe2Dn: P[] = [[-9.5,0],[-9.0,0],[-8.92,-0.1],[-8.8,0],[-7.04,0],[-7.0,-1.0],[-6.94,-3.2],[-6.9,-1.0],[-6.86,-0.5],[-6.8,-2.0],[-6.75,-3.5],[-6.69,-1.5],[-6.62,-2.0],[-6.55,-3.3],[-6.49,-1.0],[-6.44,-0.5],[-6.35,-1.0],[-6.27,-1.2],[-6.2,-0.8],[-6.1,-1.3],[-5.99,-1.5],[-5.87,-1.2],[-5.77,-1.4],[-5.68,-1.0],[-5.56,-1.2],[-5.42,-1.0],[-5.28,-1.1],[-5.14,-0.9],[-5.0,-1.0],[-4.86,-0.8],[-4.72,-0.9],[-4.58,-0.7],[-4.44,-0.8],[-4.3,-0.6],[-4.15,-0.5],[-4.01,-0.5],[-3.87,-0.3],[-3.73,-0.2],[-3.59,-0.3],[-3.45,-0.2],[-3.31,-0.4],[-3.17,-0.3],[-3.03,-0.4],[-2.89,-0.3],[-2.75,-0.4],[-2.61,-0.5],[-2.46,-0.3],[-2.32,-0.5],[-2.18,-0.4],[-2.07,-1.0],[-2.01,-3.5],[-1.96,-1.5],[-1.9,-0.8],[-1.83,-2.0],[-1.76,-1.5],[-1.69,-2.0],[-1.62,-1.3],[-1.56,0],[6,0]];
const dFe3IFUp: P[] = [[-9.5,0],[-7.1,0],[-7.0,0.1],[-6,0.1],[-5,0.15],[-4,0.15],[-3,0.1],[-2,0.1],[-1.7,0.05],[-1.5,0],[-0.75,0],[-0.7,0.2],[-0.65,0],[1.34,0],[1.41,1.5],[1.48,2.5],[1.52,3.0],[1.59,2.3],[1.65,2.8],[1.69,5.5],[1.77,5.5],[1.82,1.2],[1.86,5.5],[1.93,5.5],[1.99,1.5],[2.04,2.5],[2.11,1.8],[2.18,2.2],[2.25,1.5],[2.32,1.8],[2.39,1.0],[2.46,1.5],[2.54,0.8],[2.61,1.2],[2.68,0.5],[2.75,0.8],[2.82,0.3],[2.89,0.1],[2.96,0.4],[3.03,0.2],[3.17,0.5],[3.24,0.1],[3.45,0.05],[3.66,0.3],[3.8,0.05],[4.3,0.1],[4.86,0.1],[5.7,0.05],[6,0.05]];
const dFe3IFDn: P[] = [[-9.5,0],[-9.08,0],[-9.05,-6],[-8.73,-6],[-8.69,0],[-6.9,0],[-6.83,-0.1],[-5.56,-0.1],[-4.15,-0.15],[-2.75,-0.15],[-2.46,-0.35],[-2.18,-0.2],[-1.62,-0.05],[-1.34,0],[6,0]];

// Axis tick values
const X_MAJOR = [-8, -6, -4, -2, 0, 2, 4, 6];
const X_MINOR = [-9, -7, -5, -3, -1, 1, 3, 5];
const Y5_MAJOR = [-4, -2, 0, 2, 4];
const Y5_MINOR = [-5, -3, -1, 1, 3, 5];
const Y50_MAJOR = [-40, -20, 0, 20, 40];
const Y50_MINOR = [-50, -30, -10, 10, 30, 50];

// Band gaps and captions
const GAPS = ["1.65", "1.73", "1.64", "1.29"];
const CAPTIONS = ["(a) 17% Ti-doped Fe", "(b) 50% Ti-doped Fe", "(c) 66% Ti-doped Fe", "(d) 83% Ti-doped Fe"];

const PANEL_DATA: P[][][][] = [
  [[aTotUp, aTotDn], [aFe2IFUp, aFe2IFDn], [aFe3IFUp, aFe3IFDn], [aFe3Up, aFe3Dn]],
  [[bTotUp, bTotDn], [bFe2IFUp, bFe2IFDn], [bFe2Up, bFe2Dn], [bFe3IFUp, bFe3IFDn]],
  [[cTotUp, cTotDn], [cFe2IFUp, cFe2IFDn], [cFe2Up, cFe2Dn], [cFe3IFUp, cFe3IFDn]],
  [[dTotUp, dTotDn], [dFe2IFUp, dFe2IFDn], [dFe2Up, dFe2Dn], [dFe3IFUp, dFe3IFDn]],
];

// ===================== LAYOUT / STYLE =====================
const LAYOUT = [
  { left: 79, width: 366, bounds: [43, 173, 303, 433, 545.5], xMin: -9 },
  { left: 654, width: 366.5, bounds: [44, 175, 306, 435, 546], xMin: -9 },
  { left: 79, width: 366, bounds: [782, 912, 1042, 1172, 1282], xMin: -9 },
  { left: 654, width: 366.5, bounds: [782, 912, 1041.5, 1171, 1282], xMin: -9.5 },
];

const SANS = "'Liberation Sans', Arial, Helvetica, sans-serif";
const SERIF = "'Liberation Serif', 'Times New Roman', serif";
const FRAME = { color: "#000", width: 1.8 };
const TICK = { color: "#000", width: 1.3 };
const TICK_LABEL = { color: "#000", fontSize: 22, fontFamily: SANS };
const FILL = "#c0c0c0";

function buildOption() {
  const grid: any[] = [];
  const xAxis: any[] = [];
  const yAxis: any[] = [];
  const series: any[] = [];

  PANEL_DATA.forEach((panel, pi) => {
    const L = LAYOUT[pi];
    panel.forEach(([up, dn], si) => {
      const gi = grid.length;
      const top = L.bounds[si];
      const bottom = L.bounds[si + 1];
      grid.push({ left: L.left, top, width: L.width, height: bottom - top });
      const isTotal = si === 0;
      const isBottom = si === panel.length - 1;
      const lim = isTotal ? 50 : 5;
      const yMaj = isTotal ? Y50_MAJOR : Y5_MAJOR;
      const yMin = isTotal ? Y50_MINOR : Y5_MINOR;

      const xBase = { gridIndex: gi, type: "value", min: L.xMin, max: 6, z: 6, silent: true, splitLine: { show: false } };
      const xi = xAxis.length;
      xAxis.push({
        ...xBase, position: "bottom",
        axisLine: { show: true, onZero: false, lineStyle: FRAME },
        axisTick: { show: isBottom, length: 5, customValues: X_MAJOR, lineStyle: TICK },
        axisLabel: { show: isBottom, customValues: X_MAJOR, margin: 9, ...TICK_LABEL },
      });
      xAxis.push({
        ...xBase, position: "top",
        axisLine: { show: true, onZero: false, lineStyle: FRAME },
        axisTick: { show: false }, axisLabel: { show: false },
      });
      if (isBottom) {
        xAxis.push({
          ...xBase, position: "bottom",
          axisLine: { show: false, onZero: false },
          axisTick: { show: true, length: 3, customValues: X_MINOR, lineStyle: TICK },
          axisLabel: { show: false },
        });
      }

      const yBase = { gridIndex: gi, type: "value", min: -lim, max: lim, z: 6, silent: true, splitLine: { show: false } };
      const yi = yAxis.length;
      yAxis.push({
        ...yBase, position: "left",
        axisLine: { show: true, onZero: false, lineStyle: FRAME },
        axisTick: { show: true, length: 7, customValues: yMaj, lineStyle: TICK },
        axisLabel: {
          show: true, customValues: yMaj, margin: isTotal ? 11 : 15, ...TICK_LABEL,
          fontSize: isBottom ? 20 : 22,
        },
      });
      yAxis.push({
        ...yBase, position: "left",
        axisLine: { show: false, onZero: false },
        axisTick: { show: true, length: 4, customValues: yMin, lineStyle: TICK },
        axisLabel: { show: false },
      });
      yAxis.push({
        ...yBase, position: "right",
        axisLine: { show: true, onZero: false, lineStyle: FRAME },
        axisTick: { show: true, length: 6, customValues: yMaj, lineStyle: TICK },
        axisLabel: { show: false },
      });
      yAxis.push({
        ...yBase, position: "right",
        axisLine: { show: false, onZero: false },
        axisTick: { show: true, length: 3, customValues: yMin, lineStyle: TICK },
        axisLabel: { show: false },
      });

      const curve = (data: P[]) => ({
        type: "line", xAxisIndex: xi, yAxisIndex: yi, data,
        symbol: "none", showSymbol: false, silent: true, clip: true,
        lineStyle: { color: "#000", width: 1.4 },
        areaStyle: { color: FILL, opacity: 1 },
        z: 2,
      });
      series.push(curve(up));
      series.push({
        ...curve(dn),
        markLine: {
          silent: true, symbol: ["none", "none"], label: { show: false },
          lineStyle: { color: "#000", width: 1.2, type: "solid" },
          data: [{ yAxis: 0 }, { xAxis: 0 }],
        },
      });
    });
  });

  return {
    animation: false,
    backgroundColor: "#fff",
    grid, xAxis, yAxis, series,
    graphic: buildGraphic(),
  };
}

// ---------- text helpers ----------
function plain(x: number, y: number, text: string, size: number, align = "left", family = SANS, rotation = 0) {
  return {
    type: "text", x, y, rotation, z: 50, silent: true,
    style: { text, fill: "#000", fontSize: size, fontFamily: family, align, verticalAlign: "middle" },
  };
}
function ion(x: number, yc: number, pre: string, sup: string, post: string) {
  return {
    type: "text", x, y: yc - 5, z: 50, silent: true,
    style: {
      text: `{m|${pre}}{s|${sup}}{m|${post}}`, fill: "#000", fontSize: 24, fontFamily: SANS,
      align: "left", verticalAlign: "middle",
      rich: {
        m: { fontSize: 24, fontFamily: SANS, lineHeight: 34, verticalAlign: "bottom", fill: "#000" },
        s: { fontSize: 16, fontFamily: SANS, lineHeight: 16, verticalAlign: "top", fill: "#000" },
      },
    },
  };
}
function dz2(x: number, yd: number) {
  return [
    plain(x, yd, "d", 24),
    plain(x + 13, yd + 9, "z", 20),
    plain(x + 26, yd - 4, "2", 15),
  ];
}
function gapTitle(x: number, yc: number, gap: string) {
  return {
    type: "text", x, y: yc + 4.5, z: 50, silent: true,
    style: {
      text: `{m|Δ}{g|g}{m|=${gap} eV}`, fill: "#000", fontSize: 24, fontFamily: SANS,
      align: "left", verticalAlign: "middle",
      rich: {
        m: { fontSize: 24, fontFamily: SANS, lineHeight: 31, verticalAlign: "top", fill: "#000" },
        g: { fontSize: 16, fontFamily: SANS, lineHeight: 16, verticalAlign: "bottom", fill: "#000" },
      },
    },
  };
}
function caption(x: number, yc: number, pre: string) {
  return {
    type: "text", x, y: yc, z: 50, silent: true,
    style: {
      text: `{m|${pre}}{s|2}{m|O}{s|3}`, fill: "#000", fontSize: 20, fontFamily: SERIF,
      align: "center", verticalAlign: "middle",
      rich: {
        m: { fontSize: 20, fontFamily: SERIF, lineHeight: 22, verticalAlign: "top", fill: "#000" },
        s: { fontSize: 14, fontFamily: SERIF, lineHeight: 14, verticalAlign: "bottom", fill: "#000" },
      },
    },
  };
}

function buildGraphic() {
  const ROT = Math.PI / 2;
  const DOS = "DOS(states/eV,spins)";
  const E = "Energy (eV)";
  return [
    // (a)
    gapTitle(220, 20, GAPS[0]),
    plain(125, 72, "Total", 25),
    ion(115, 195, "3d Fe", "2+", " @ IF"),
    ...dz2(307, 197),
    ion(110, 325, "3d Fe", "3+", " @ IF"),
    ion(128, 456, "3d Fe", "3+", ""),
    plain(282, 603, E, 25, "center"),
    plain(25, 309, DOS, 27, "center", SANS, ROT),
    caption(239, 685, CAPTIONS[0]),
    // (b)
    gapTitle(803, 21, GAPS[1]),
    plain(680, 62, "Total", 25),
    ion(682, 194, "3d Fe", "2+", " @ IF"),
    ...dz2(882, 203),
    ion(680, 327, "3d Fe", "2+", ""),
    ...dz2(882, 330),
    ion(678, 457, "3d Fe", "3+", " @ IF"),
    plain(862, 608, E, 25, "center"),
    plain(603, 322, DOS, 27, "center", SANS, ROT),
    caption(839, 685, CAPTIONS[1]),
    // (c)
    gapTitle(222, 757, GAPS[2]),
    plain(105, 794, "Total", 25),
    ion(100, 931, "3d Fe", "2+", " @ IF"),
    ...dz2(307, 937),
    ion(100, 1064, "3d Fe", "2+", ""),
    ...dz2(242, 1139),
    ion(103, 1193, "3d Fe", "3+", " @ IF"),
    plain(282, 1343, E, 25, "center"),
    plain(25, 1045, DOS, 27, "center", SANS, ROT),
    caption(239, 1418, CAPTIONS[2]),
    // (d)
    gapTitle(805, 757, GAPS[3]),
    plain(687, 794, "Total", 25),
    ion(672, 933, "3d Fe", "2+", "@ IF"),
    ...dz2(830, 1006),
    ion(673, 1065, "3d Fe", "2+", ""),
    ...dz2(820, 1070),
    ion(673, 1194, "3d Fe", "3+", " @ IF"),
    plain(603, 1047, DOS, 27, "center", SANS, ROT),
    caption(839, 1418, CAPTIONS[3]),
  ];
}

export default function App() {
  const ref = useRef<HTMLDivElement>(null);
  useEffect(() => {
    if (!ref.current) return;
    const chart = echarts.init(ref.current, null, { renderer: "svg", width: 1030, height: 1433 });
    chart.setOption(buildOption() as any);
    return () => chart.dispose();
  }, []);
  return (
    <div
      ref={ref}
      style={{ position: "absolute", left: 0, top: 0, width: 1030, height: 1433, background: "#fff" }}
    />
  );
}
